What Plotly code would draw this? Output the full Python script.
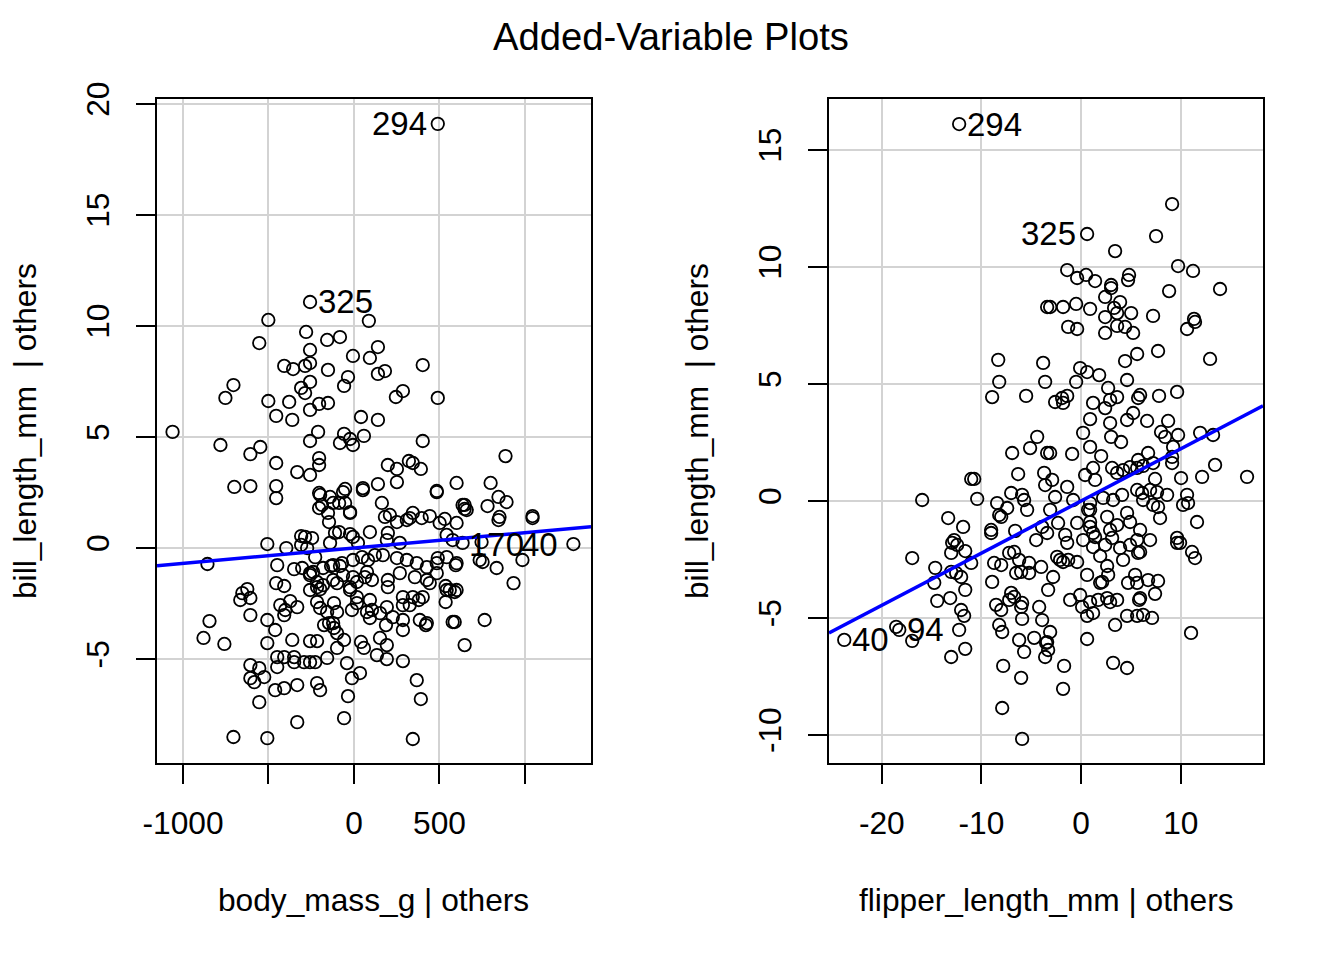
import plotly.graph_objects as go

# ---------------- Left panel: body_mass_g | others  vs  bill_length_mm | others
left_x = [490, -257, -501, 87, -280, -157, -82, -554, -257, -6, 93, -408, -356, -286, -257, -152, -35, -58, -705, -752,
          -257, -309, -286, -501, -379, -204, -152, -257, -455, -361, 41, -1061, -210, -257, -58, -82, -23, 58, -6, -781,
          -548, -606, -455, -204, -204, -332, -257, -700, -606, -455, -455, -204, -140, -52, 52, -204, -152, -87, -52, -23,
          140, 402, 181, 140, 286, 245, 490, 140, 402, 886, 198, 251, 321, 344, 391, 251, 140, 484, 600, 799,
          845, 892, 781, 647, 647, 163, 1044, 851, 210, 326, 443, 531, -146, -507, -309, -245, -309, -396, -87, -23,
          93, -857, -449, -350, -303, -257, -239, -216, -181, -134, -82, -455, -408, -216, -257, -198, -99, -23, 17, 64,
          -653, -624, -606, -665, -431, -402, -373, -332, -408, -216, -198, -117, -157, -99, -12, 17, 76, 93, -845, -606,
          -507, -461, -175, -146, -117, -99, -58, -99, -880, -758, -507, -361, -257, -216, 41, 58, -449, -408, -350, -350,
          -292, -257, -227, -157, -606, -554, -525, -606, -583, -449, -41, 35, -12, -461, -408, -332, -216, -198, -554, -35,
          -332, -58, -705, -507, 845, 1044, 1283, 746, 735, 752, 834, 985, 933, 764, 589, 647, 420, 589, 536, 536,
          595, 542, 490, 443, 379, 326, 286, 286, 187, 152, 192, 134, 192, 286, 367, 391, 344, -198, -64, 52,
          484, 635, -187, -122, -23, 181, 251, 309, 344, 396, 501, 600, 659, -286, -111, -6, 23, -140, 198, 192,
          268, 542, 577, 635, -274, -227, -122, -70, -6, 47, 82, 122, 169, 251, 309, 367, 426, 484, 600, -257,
          -181, -122, -64, -6, 76, 105, 198, 198, 268, 356, 426, 484, 560, -23, 17, 93, 105, 152, 192, 286,
          344, 402, 286, 385, 227, 426, -122, 577, 542, 600]
left_y = [19.10, 11.08, 10.27, 10.23, 9.73, 9.37, 9.50, 9.23, 8.92, 8.65, 8.56, 8.20, 8.06, 8.20, 8.33, 8.02, 7.70, 7.30, 7.34, 6.76,
          7.48, 7.21, 6.98, 6.62, 6.58, 6.49, 6.53, 6.22, 5.95, 5.77, 5.90, 5.23, 5.23, 4.82, 5.14, 4.73, 4.91, 5.05, 4.64, 4.64,
          4.55, 4.23, 3.83, 4.05, 3.74, 3.42, 3.29, 2.75, 2.79, 2.79, 2.25, 2.48, 2.30, 2.66, 2.70, 1.80, 1.58, 2.03, 2.03, 1.62,
          9.05, 8.24, 7.97, 7.84, 7.07, 6.80, 6.76, 5.77, 4.82, 4.14, 3.74, 3.56, 3.92, 3.83, 3.56, 2.97, 2.88, 2.57, 2.93, 2.93,
          2.30, 2.07, 1.89, 1.94, 1.76, 2.03, 1.44, 1.40, 1.49, 1.35, 1.44, 1.31, 1.17, 0.18, 0.54, 0.45, 0.14, 0.00, 0.72, 0.63,
          0.72, -0.72, -0.77, -0.95, -0.90, -1.22, -1.08, -1.53, -0.90, -0.81, -0.81, -1.58, -1.71, -1.76, -1.89, -1.85, -1.58, -1.76, -1.53, -1.31,
          -2.03, -1.85, -2.25, -2.34, -2.57, -2.79, -2.39, -2.66, -3.02, -2.43, -2.70, -2.48, -2.88, -2.88, -2.79, -2.48, -2.88, -3.15, -3.29, -3.02,
          -3.24, -3.69, -3.47, -3.38, -3.60, -3.83, -4.14, -4.50, -4.05, -4.32, -4.28, -4.14, -4.19, -4.19, -4.23, -4.50, -4.91, -4.91, -5.14, -4.91,
          -5.14, -5.14, -5.14, -4.95, -5.27, -5.41, -5.81, -5.86, -6.04, -5.36, -5.18, -5.63, -5.86, -6.40, -6.31, -6.17, -6.08, -6.40, -6.94, -6.67,
          -7.84, -7.66, -8.51, -8.56, 1.26, 1.35, 0.18, 0.27, -0.54, -0.63, -0.90, -0.54, -1.58, -3.24, -3.33, -4.37, -3.47, -1.98, -2.43, -1.71,
          -0.77, -0.41, -0.45, -1.58, -2.34, -2.57, -3.24, -3.69, -3.47, -4.05, -4.37, -4.82, -5.00, -5.09, -5.95, -6.80, -8.60, 2.39, 2.52, 2.61,
          2.52, 1.94, 1.94, 2.03, 1.58, 1.40, 1.17, 1.26, 1.58, 1.35, 1.13, 1.13, 1.71, 0.50, 0.68, 0.50, 0.23, 0.23, 0.68, 0.36,
          0.23, 0.59, 0.36, 0.23, 0.00, -0.41, -0.77, -0.68, -0.54, -0.41, -0.54, -0.32, -0.32, -0.45, -0.54, -0.68, -0.86, -0.68, -0.68, -1.13,
          -1.67, -1.44, -1.22, -1.31, -1.08, -1.44, -1.44, -1.76, -1.13, -1.31, -1.44, -1.13, -1.89, -1.89, -2.21, -2.34, -2.79, -2.93, -2.66, -2.21,
          -2.21, -2.21, -2.57, -3.24, -3.11, -3.38, -3.38, -3.33, -1.89, -1.89]
left_slope = 0.00069
left_xrange = [-1152, 1386]
left_yrange = [-9.68, 20.22]
left_xticks = [-1000, -500, 0, 500, 1000]
left_xticktext = ["-1000", "", "0", "500", ""]
left_yticks = [-5, 0, 5, 10, 15, 20]
left_yticktext = ["-5", "0", "5", "10", "15", "20"]
# labelled points: (text, x, y, side, shift)
left_labels = [("294", 490, 19.10, "right", -9), ("325", -257, 11.08, "left", 6),
               ("170", 1056, 0.18, "right", -9), ("40", 1283, 0.18, "right", -13)]

# ---------------- Right panel: flipper_length_mm | others vs bill_length_mm | others
right_x = [-12.24, -3.41, 9.13, 0.60, 7.52, 3.41, 9.73, 11.23, -1.40, -0.40, 0.50, 1.40, 3.01, 3.01, 4.81, 4.71, 8.83, 13.94, 2.41, 3.91,
           3.31, 3.61, 2.41, 5.02, -3.11, -1.81, -0.50, 0.90, 7.22, 11.33, -1.30, -0.40, 10.63, -8.32, -3.81, -3.61, -8.22, -8.93, -5.52, -4.41,
           -5.12, -6.92, -3.41, -6.32, -3.71, -11.03, -10.73, -15.95, -10.43, -7.02, -5.92, -5.72, -5.42, -8.43, -7.42, -8.22, -8.02, -13.34, -11.84, -9.03,
           -9.03, -6.62, -12.74, -12.94, -12.44, -13.04, -11.63, -11.03, -16.95, -14.64, -14.74, -13.04, -12.54, -12.04, -11.63, -14.44, -13.14, -12.04, -11.74, -12.24,
           -23.77, -18.56, -18.25, -16.95, -11.63, -13.04, -8.73, -8.02, -8.93, -7.22, -6.72, -6.22, -5.22, -4.01, -6.02, -6.52, -5.22, -7.02, -6.72, -7.22,
           -5.92, -8.53, -8.02, -4.21, -6.02, -8.22, -7.92, -5.92, -6.22, -5.72, -4.71, -3.91, -3.51, -7.82, -6.02, -7.92, -5.92, 9.63, 9.93, 11.13,
           11.43, 11.03, 6.92, 0.60, 5.42, 4.71, 5.62, 6.72, 7.72, 7.42, 5.92, 5.82, 2.11, 1.91, 2.71, 2.61, -1.10, -0.10, 0.10, 0.90,
           1.20, 0.60, 1.71, 2.61, 2.91, 3.61, 3.41, 4.61, 5.62, 6.22, 7.12, 0.60, 3.21, 4.61, -1.71, -1.81, -3.11, -3.41, -3.31, -3.61,
           -2.41, -1.81, -1.30, -2.81, -3.31, 2.41, 3.61, 4.41, 5.22, 11.43, 7.72, 5.62, 4.41, 12.94, -0.10, 0.60, 1.81, -0.50, 4.61, 9.63,
           2.71, 3.61, 2.91, 5.92, 5.72, 7.82, -2.61, -1.91, -1.40, -1.81, 1.20, 2.41, 5.22, 4.61, 6.62, 8.73, 0.90, 2.91, 0.20, 8.02,
           8.43, 9.73, 11.94, 13.24, 3.01, 4.01, 0.90, 2.01, -3.11, -0.90, 9.23, 9.13, 9.13, 6.72, 5.72, 7.22, 13.44, 16.65, 12.14, 10.03,
           0.40, 1.20, 1.40, 3.11, 3.61, 4.21, 4.91, 5.62, 6.22, 7.42, -1.40, -2.61, -0.80, 0.90, 2.21, 3.21, 4.11, 5.62, 6.12, 6.22,
           7.62, 8.63, 7.22, 7.72, 10.63, 10.73, 10.23, 11.63, -3.11, -2.31, -0.40, 0.90, 0.90, 2.61, 3.61, 4.61, 4.91, 5.92, 7.92, 9.63,
           -1.60, 0.20, 1.40, 2.41, 3.11, 3.91, 4.91, 5.92, 1.91, -0.40, 4.21, 5.72, 0.70, 0.90, 1.20, 2.91, 5.62, 1.20, -1.40, -2.11,
           -3.41, 6.92, -3.61, -2.91, -3.91, -4.51]
right_y = [16.11, 8.29, 12.69, 11.41, 11.32, 10.68, 10.04, 9.83, 9.87, 9.53, 9.66, 9.40, 9.23, 9.10, 9.66, 9.44, 8.97, 9.06, 8.72, 8.50,
           8.25, 8.03, 7.86, 8.03, 8.29, 8.29, 8.42, 8.21, 7.91, 7.78, 7.44, 7.35, 7.35, 6.03, 5.90, 5.09, 5.09, 4.44, 4.49, 2.74,
           2.26, 2.05, 2.05, 1.15, 1.20, 0.94, 0.94, 0.04, 0.09, 0.34, 0.26, 0.04, -0.38, -0.09, -0.30, -0.60, -0.68, -0.73, -1.11, -1.24,
           -1.37, -1.28, -1.67, -1.79, -1.88, -2.22, -2.14, -2.65, -2.44, -2.86, -3.50, -3.03, -3.08, -3.25, -3.80, -4.27, -4.15, -4.66, -4.91, -5.51,
           -5.94, -5.38, -5.51, -5.98, -6.32, -6.67, -2.65, -2.74, -3.46, -2.22, -2.18, -2.52, -2.65, -2.82, -3.03, -3.08, -3.08, -3.93, -4.10, -4.23,
           -4.36, -4.44, -4.66, -4.53, -4.53, -5.30, -5.60, -5.04, -5.94, -6.45, -5.85, -5.09, -6.07, -7.05, -7.56, -8.85, -10.17, -1.79, -1.79, -2.18,
           -2.44, -5.64, -1.67, -3.16, -3.16, -3.50, -3.50, -3.38, -3.42, -3.97, -4.15, -4.23, -3.46, -3.50, -3.16, -2.78, -4.23, -4.02, -4.53, -4.32,
           -4.79, -4.91, -4.23, -4.15, -4.32, -4.23, -5.30, -4.91, -4.91, -4.87, -5.00, -5.90, -6.92, -7.14, -7.05, -8.03, -5.60, -6.03, -6.37, -6.67,
           -2.39, -2.61, -2.52, -3.25, -3.80, 7.18, 7.48, 7.44, 7.18, 7.65, 6.41, 6.28, 5.98, 6.07, 5.68, 5.51, 5.38, 5.09, 5.17, 4.66,
           4.83, 4.44, 4.32, 4.53, 4.40, 4.49, 4.23, 4.40, 4.49, 4.19, 4.19, 3.97, 3.76, 3.46, 3.42, 3.42, 3.50, 3.33, 2.91, 2.95,
           2.74, 2.82, 2.91, 2.82, 2.74, 2.52, 2.31, 1.92, 2.05, 2.01, 2.31, 1.88, 1.62, 2.05, 1.75, 1.62, 1.54, 1.03, 1.03, 0.98,
           1.11, 1.41, 0.90, 1.41, 1.20, 1.32, 1.45, 1.41, 1.50, 0.94, 0.60, 0.17, 0.04, -0.09, 0.13, 0.04, 0.26, 0.47, 0.34, 0.04,
           0.38, 0.26, -0.17, -0.26, 0.26, -0.09, -0.17, -0.90, -0.38, -0.94, -0.94, -0.38, -0.90, -0.68, -1.03, -0.51, -0.90, -1.24, -0.73, -1.58,
           -1.45, -1.67, -1.54, -1.88, -1.58, -2.01, -1.88, -2.18, -2.35, -2.61, -2.52, -2.22, -0.38, -1.11, -1.37, -1.24, -1.67, -1.97, -1.79, -2.52,
           -1.37, 0.47, 0.68, 0.90, -1.11, -1.67]
right_slope = 0.223
right_xrange = [-25.3, 18.25]
right_yrange = [-11.2, 17.18]
right_xticks = [-20, -10, 0, 10]
right_xticktext = ["-20", "-10", "0", "10"]
right_yticks = [-10, -5, 0, 5, 10, 15]
right_yticktext = ["-10", "-5", "0", "5", "10", "15"]
right_labels = [("294", -12.24, 16.11, "left", 6), ("325", 0.60, 11.41, "right", -9),
                ("40", -23.77, -5.94, "left", 6), ("94", -18.25, -5.51, "left", 6)]

title_text = "Added-Variable Plots"
left_xtitle = "body_mass_g | others"
right_xtitle = "flipper_length_mm | others"
ytitle = "bill_length_mm  | others"

FONT = "Liberation Sans, Arial, sans-serif"
FS = 31.7
LFS = 33

W, H = 1344, 960
OFF = 8  # page body offset seen in the rendered output


def px(p):
    return (p - OFF) / W


def py(p):
    return 1 - (p - OFF) / H


dom_left = [px(157), px(591)]
dom_right = [px(829), px(1263)]
dom_y = [py(763), py(99)]

fig = go.Figure()

for xs, ys, ax in [(left_x, left_y, "x"), (right_x, right_y, "x2")]:
    fig.add_trace(go.Scatter(
        x=xs, y=ys, mode="markers", xaxis=ax, yaxis="y" if ax == "x" else "y2",
        marker=dict(symbol="circle-open", size=12.5, color="black", line=dict(width=1.8, color="black")),
        showlegend=False, hoverinfo="x+y"))

for slope, xr, ax in [(left_slope, left_xrange, "x"), (right_slope, right_xrange, "x2")]:
    fig.add_trace(go.Scatter(
        x=xr, y=[slope * v for v in xr], mode="lines", xaxis=ax, yaxis="y" if ax == "x" else "y2",
        line=dict(color="#0000ff", width=3.5), showlegend=False, hoverinfo="skip"))

axis_common = dict(
    showline=True, mirror=True, linecolor="black", linewidth=1.5,
    showgrid=True, gridcolor="#d3d3d3", gridwidth=2, zeroline=False,
    ticks="outside", ticklen=19, tickwidth=1.5, tickcolor="black",
    tickfont=dict(family=FONT, size=FS, color="black"), automargin=False,
)

fig.update_layout(
    width=W, height=H, autosize=False,
    margin=dict(l=0, r=0, t=0, b=0, autoexpand=False),
    paper_bgcolor="white", plot_bgcolor="white",
    xaxis=dict(domain=dom_left, range=left_xrange, tickvals=left_xticks, ticktext=left_xticktext,
               anchor="y", ticklabelstandoff=12, **axis_common),
    yaxis=dict(domain=dom_y, range=left_yrange, tickvals=left_yticks, ticktext=left_yticktext,
               anchor="x", tickangle=-90, ticklabelstandoff=15, **axis_common),
    xaxis2=dict(domain=dom_right, range=right_xrange, tickvals=right_xticks, ticktext=right_xticktext,
                anchor="y2", ticklabelstandoff=12, **axis_common),
    yaxis2=dict(domain=dom_y, range=right_yrange, tickvals=right_yticks, ticktext=right_yticktext,
                anchor="x2", tickangle=-90, ticklabelstandoff=15, **axis_common),
)

annotations = []
for labels, xref, yref in [(left_labels, "x", "y"), (right_labels, "x2", "y2")]:
    for txt, lx, ly, side, shift in labels:
        annotations.append(dict(
            x=lx, y=ly, xref=xref, yref=yref, text=txt, showarrow=False,
            xanchor="left" if side == "left" else "right",
            xshift=shift, yanchor="middle",
            font=dict(family=FONT, size=LFS, color="black")))

annotations.append(dict(x=px(671), y=py(37), xref="paper", yref="paper", text=title_text,
                        showarrow=False, xanchor="center", yanchor="middle",
                        font=dict(family=FONT, size=38.2, color="black")))
annotations.append(dict(x=px(374), y=py(900), xref="paper", yref="paper", text=left_xtitle,
                        showarrow=False, xanchor="center", yanchor="middle",
                        font=dict(family=FONT, size=FS, color="black")))
annotations.append(dict(x=px(1046), y=py(900), xref="paper", yref="paper", text=right_xtitle,
                        showarrow=False, xanchor="center", yanchor="middle",
                        font=dict(family=FONT, size=FS, color="black")))
annotations.append(dict(x=px(25), y=py(431), xref="paper", yref="paper", text=ytitle,
                        showarrow=False, xanchor="center", yanchor="middle", textangle=-90,
                        font=dict(family=FONT, size=FS, color="black")))
annotations.append(dict(x=px(697), y=py(431), xref="paper", yref="paper", text=ytitle,
                        showarrow=False, xanchor="center", yanchor="middle", textangle=-90,
                        font=dict(family=FONT, size=FS, color="black")))
fig.update_layout(annotations=annotations)

fig.write_html("out.html")
